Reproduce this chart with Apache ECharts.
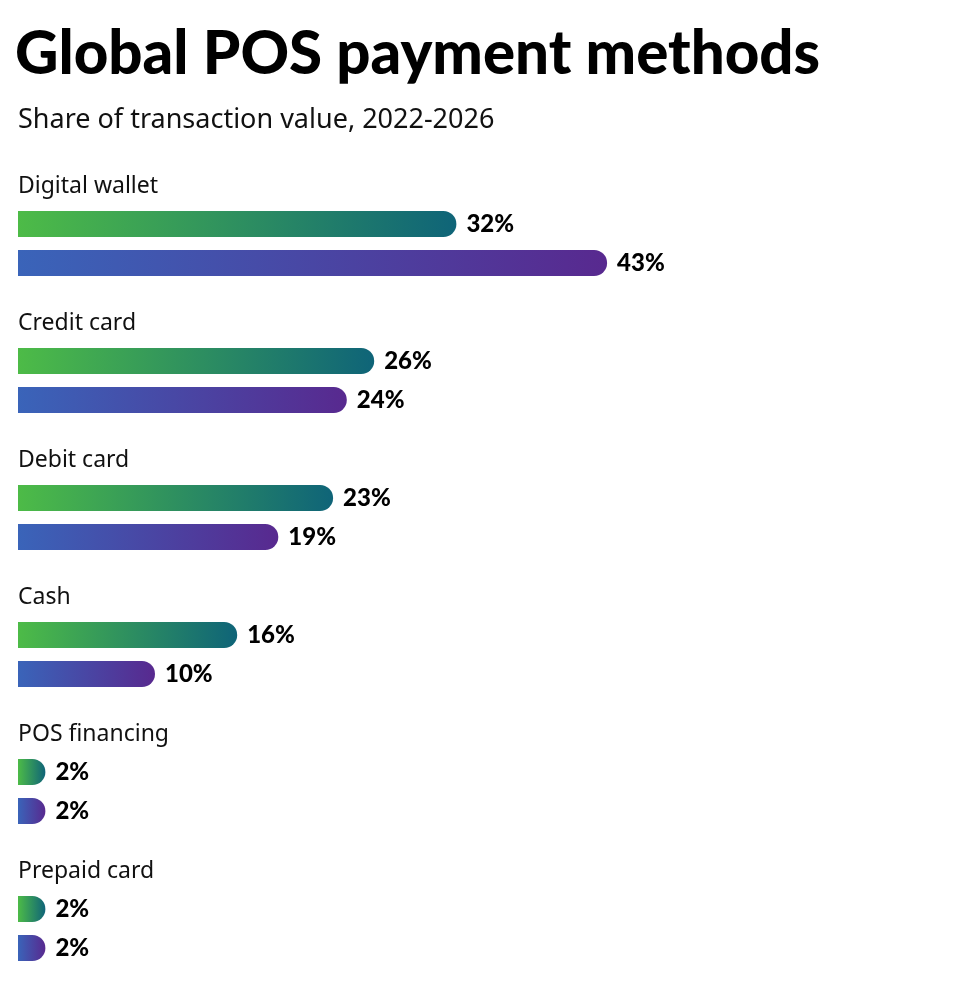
<!DOCTYPE html>
<html>
<head>
<meta charset="utf-8">
<script src="https://cdn.jsdelivr.net/npm/echarts@6/dist/echarts.min.js"></script>
<style>
  html, body { margin: 0; padding: 0; background: #fff; }
  #chart { width: 975px; height: 999px; }
</style>
</head>
<body>
<div id="chart"></div>
<script>
const categories = ['Digital wallet', 'Credit card', 'Debit card', 'Cash', 'POS financing', 'Prepaid card']
const years = ['2022', '2026']
const share2022 = [32, 26, 23, 16, 2, 2]
const share2026 = [43, 24, 19, 10, 2, 2]

const chart = echarts.init(document.getElementById('chart'))

const step = 137
const gradGreen = new echarts.graphic.LinearGradient(0, 0, 1, 0, [
  { offset: 0, color: '#4dbb47' }, { offset: 1, color: '#0f6478' }
])
const gradBlue = new echarts.graphic.LinearGradient(0, 0, 1, 0, [
  { offset: 0, color: '#3a64b9' }, { offset: 1, color: '#58298f' }
])

const titles = [{
  text: 'Global POS payment methods',
  left: 10, top: 20,
  textStyle: { fontFamily: 'Lato', fontWeight: 900, fontSize: 60, color: '#000' }
}, {
  text: 'Share of transaction value, 2022-2026',
  left: 13, top: 102,
  textStyle: { fontFamily: 'Noto Sans', fontWeight: 'normal', fontSize: 27, color: '#111' }
}]
const grids = [], xAxes = [], yAxes = [], series = []

categories.forEach((cat, i) => {
  titles.push({
    text: cat, left: 13, top: 170 + step * i,
    textStyle: { fontFamily: 'Noto Sans', fontWeight: 'normal', fontSize: 23, color: '#111' }
  })
  grids.push({ left: 18, width: 685, top: 204.5 + step * i, height: 78 })
  xAxes.push({ gridIndex: i, type: 'value', min: 0, max: 50, show: false })
  yAxes.push({ gridIndex: i, type: 'category', data: years, inverse: true, show: false })
  const label = {
    show: true, position: 'right', distance: 10, formatter: '{c}%',
    fontFamily: 'Lato', fontWeight: 900, fontSize: 24, color: '#000'
  }
  series.push({
    name: '2022', type: 'bar', xAxisIndex: i, yAxisIndex: i, barWidth: 26, barGap: '-100%',
    itemStyle: { color: gradGreen, borderRadius: [0, 13, 13, 0] }, label,
    data: [share2022[i], '-']
  })
  series.push({
    name: '2026', type: 'bar', xAxisIndex: i, yAxisIndex: i, barWidth: 26, barGap: '-100%',
    itemStyle: { color: gradBlue, borderRadius: [0, 13, 13, 0] }, label,
    data: ['-', share2026[i]]
  })
})

chart.setOption({
  backgroundColor: '#fff',
  animation: false,
  title: titles,
  grid: grids,
  xAxis: xAxes,
  yAxis: yAxes,
  series
})
</script>
</body>
</html>
